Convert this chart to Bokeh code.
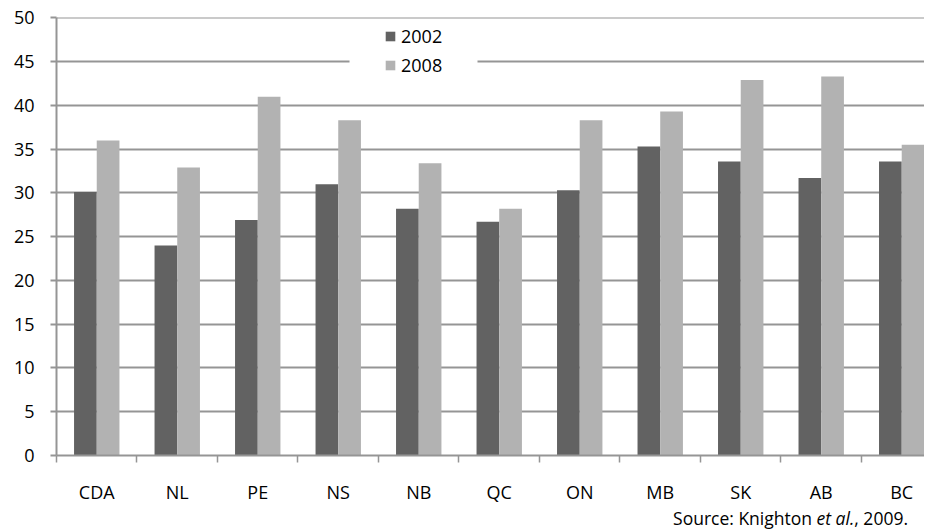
from bokeh.plotting import figure
from bokeh.models import ColumnDataSource, FixedTicker, BoxAnnotation, Range1d, Div
from bokeh.layouts import column
from bokeh.transform import dodge
from bokeh.embed import file_html
from bokeh.resources import INLINE

categories = ["CDA", "NL", "PE", "NS", "NB", "QC", "ON", "MB", "SK", "AB", "BC"]
v2002 = [30.1, 24.0, 26.9, 31.0, 28.2, 26.7, 30.3, 35.3, 33.6, 31.7, 33.6]
v2008 = [36.0, 32.9, 41.0, 38.3, 33.4, 28.2, 38.3, 39.3, 42.9, 43.3, 35.5]
y_ticks = [0, 5, 10, 15, 20, 25, 30, 35, 40, 45, 50]
source_note = ("Source: Knighton ", "et al.", ", 2009.")

FONT = "Open Sans"
FS = "18px"
GRID = "#959595"
DARK = "#626262"
LIGHT = "#b2b2b2"

centers = [i + 0.5 for i in range(len(categories))]
src = ColumnDataSource(dict(x=centers, cat=categories, a=v2002, b=v2008))

p = figure(frame_width=868, frame_height=438, output_backend="svg", toolbar_location=None,
           x_range=Range1d(0, 10.783), y_range=Range1d(0, 50.05),
           min_border_left=56, min_border_right=0, min_border_top=17, min_border_bottom=42)
p.outline_line_color = None
p.background_fill_color = "white"

bw = 0.282
p.vbar(x=dodge("x", -bw / 2, range=p.x_range), top="a", width=bw, source=src,
       fill_color=DARK, line_color=None, legend_label="2002")
p.vbar(x=dodge("x", bw / 2, range=p.x_range), top="b", width=bw, source=src,
       fill_color=LIGHT, line_color=None, legend_label="2008")

# axes
p.xgrid.grid_line_color = None
p.ygrid.ticker = FixedTicker(ticks=y_ticks)
p.ygrid.grid_line_color = GRID
p.ygrid.grid_line_width = 2

p.yaxis.ticker = FixedTicker(ticks=y_ticks)
p.yaxis.axis_line_color = GRID
p.yaxis.axis_line_width = 2
p.yaxis.major_tick_line_color = GRID
p.yaxis.major_tick_line_width = 2
p.yaxis.major_tick_out = 6
p.yaxis.major_tick_in = 0
p.yaxis.minor_tick_line_color = None
p.yaxis.major_label_standoff = 16
p.yaxis.major_label_text_font = FONT
p.yaxis.major_label_text_font_size = FS
p.yaxis.major_label_text_color = "black"

p.xaxis.ticker = FixedTicker(ticks=centers, minor_ticks=list(range(len(categories) + 1)))
p.xaxis.major_label_overrides = {c: n for c, n in zip(centers, categories)}
p.xaxis.axis_line_color = GRID
p.xaxis.axis_line_width = 2
p.xaxis.major_tick_line_color = None
p.xaxis.major_tick_out = 0
p.xaxis.major_tick_in = 0
p.xaxis.minor_tick_line_color = GRID
p.xaxis.minor_tick_line_width = 1.5
p.xaxis.minor_tick_out = 7
p.xaxis.minor_tick_in = 0
p.xaxis.major_label_standoff = 17
p.xaxis.major_label_text_font = FONT
p.xaxis.major_label_text_font_size = FS
p.xaxis.major_label_text_color = "black"

# legend gap in the gridline
gap = BoxAnnotation(left=3.64, right=5.23, bottom=43.5, top=46.5,
                    fill_color="white", fill_alpha=1.0, line_color=None)
p.add_layout(gap)

leg = p.legend[0]
leg.location = (328, 378)
leg.padding = 0
leg.margin = 0
leg.spacing = 5
leg.glyph_width = 12
leg.glyph_height = 12
leg.label_standoff = 5
leg.label_text_font = FONT
leg.label_text_font_size = FS
leg.label_text_color = "black"
leg.background_fill_alpha = 0
leg.border_line_color = None

note_html = (
    '<div style="width:924px;height:24px;box-sizing:border-box;'
    'padding-top:0px;padding-right:16px;text-align:right;white-space:nowrap;'
    f'font-family:\'{FONT}\';font-size:17.5px;line-height:24px;color:black;">'
    f'{source_note[0]}<i>{source_note[1]}</i>{source_note[2]}</div>'
)
note = Div(text=note_html, width=924, height=24, margin=(0, 0, 0, 0))

layout = column(p, note, spacing=0)
open("out.html", "w").write(file_html(layout, INLINE))
